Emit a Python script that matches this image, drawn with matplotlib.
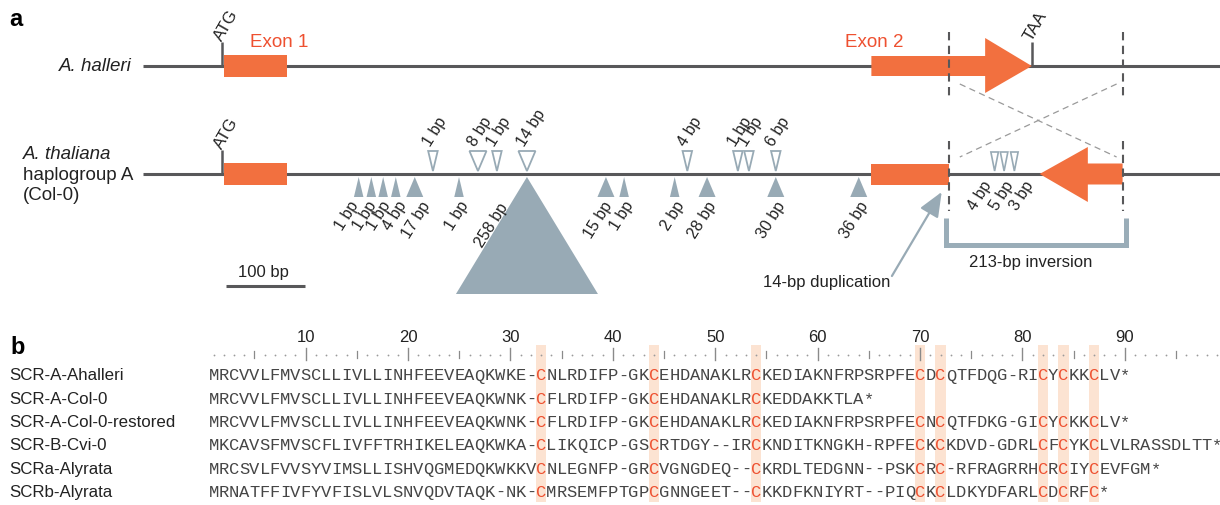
import matplotlib.pyplot as plt
from matplotlib.patches import Polygon, Rectangle

plt.rcParams['font.family'] = ['Liberation Sans', 'DejaVu Sans']

# ---------------- panel a: positions in bp, counted from the A. halleri ATG
line_start, line_end = -100, 1263
exon1 = (3, 82)
exon2_start, exon2_head, exon2_tip = 822, 966, 1025
inversion = (920, 1140)
rev_tip, rev_head = 1035, 1096
duplication_at = 911
scale_bar = 100

del_pos = [173, 189, 204, 220, 244, 300, 386, 486, 509, 573, 614, 701, 806]
del_size = [1, 1, 1, 4, 17, 1, 258, 15, 1, 2, 28, 30, 36]
ins_pos = [267, 324, 348, 386, 589, 653, 667, 701]
ins_size = [1, 8, 1, 14, 4, 1, 1, 6]
inv_ins_pos = [978, 990, 1003]
inv_ins_size = [4, 5, 3]

# ---------------- panel b: alignment
names = ["SCR-A-Ahalleri", "SCR-A-Col-0", "SCR-A-Col-0-restored",
         "SCR-B-Cvi-0", "SCRa-Alyrata", "SCRb-Alyrata"]
seqs = [
    "MRCVVLFMVSCLLIVLLINHFEEVEAQKWKE-CNLRDIFP-GKCEHDANAKLRCKEDIAKNFRPSRPFECDCQTFDQG-RICYCKKCLV*",
    "MRCVVLFMVSCLLIVLLINHFEEVEAQKWNK-CFLRDIFP-GKCEHDANAKLRCKEDDAKKTLA*",
    "MRCVVLFMVSCLLIVLLINHFEEVEAQKWNK-CFLRDIFP-GKCEHDANAKLRCKEDIAKNFRPSRPFECNCQTFDKG-GICYCKKCLV*",
    "MKCAVSFMVSCFLIVFFTRHIKELEAQKWKA-CLIKQICP-GSCRTDGY--IRCKNDITKNGKH-RPFECKCKDVD-GDRLCFCYKCLVLRASSDLTT*",
    "MRCSVLFVVSYVIMSLLISHVQGMEDQKWKKVCNLEGNFP-GRCVGNGDEQ--CKRDLTEDGNN--PSKCRC-RFRAGRRHCRCIYCEVFGM*",
    "MRNATFFIVFYVFISLVLSNVQDVTAQK-NK-CMRSEMFPTGPCGNNGEET--CKKDFKNIYRT--PIQCKCLDKYDFARLCDCRFC*",
]
cys_cols = [33, 44, 54, 70, 72, 82, 84, 87]
ruler_len = 99

ORANGE = '#F2703F'
RED = '#EE5030'
TRI = '#98AAB5'
LINE = '#58585A'
INK = '#222222'

W, H = 1220, 506
fig = plt.figure(figsize=(W / 100, H / 100), dpi=100)

# panel a axes: x in bp, y in pixels from the top
bp_px = 0.79               # pixels per bp (100 bp bar = 79 px)
atg_px = 222
ax = fig.add_axes([0, 0, 1, 1])
ax.set_xlim(-atg_px / bp_px, (W - atg_px) / bp_px)
ax.set_ylim(H, 0)
ax.axis('off')
px = 1 / bp_px             # one pixel in bp

y_hal, y_tha = 67, 175

# backbone lines
for y in (y_hal, y_tha):
    ax.plot([line_start, line_end], [y, y], color=LINE, lw=2.2, solid_capstyle='butt', zorder=1)


# ATG / TAA ticks
def tick(x, y, label):
    ax.plot([x, x], [y, y - 24], color=LINE, lw=1.8, solid_capstyle='butt', zorder=1)
    ax.text(x - 4 * px, y - 27, label, rotation=60, rotation_mode='anchor',
            ha='left', va='center', fontsize=12, color=INK)


tick(0, y_hal, 'ATG')
tick(0, y_tha, 'ATG')
tick(exon2_tip, y_hal, 'TAA')

# exon 1
for y in (y_hal, y_tha):
    ax.add_patch(Rectangle((exon1[0], y - 11), exon1[1] - exon1[0], 22,
                           color=ORANGE, lw=0, zorder=3))
ax.text(exon1[0] + 69, 42, 'Exon 1', color=RED, fontsize=13.5,
        ha='center', va='center')

# exon 2, A. halleri
ax.add_patch(Polygon([(exon2_start, y_hal - 10), (exon2_head, y_hal - 10),
                      (exon2_head, y_hal - 28), (exon2_tip, y_hal),
                      (exon2_head, y_hal + 27), (exon2_head, y_hal + 10),
                      (exon2_start, y_hal + 10)], closed=True, color=ORANGE, lw=0, zorder=3))
ax.text(exon2_start + 3 * px, 42, 'Exon 2', color=RED, fontsize=13.5, ha='center', va='center')

# exon 2, A. thaliana: box + inverted arrow
ax.add_patch(Rectangle((exon2_start, y_tha - 10.5), inversion[0] - exon2_start, 21,
                       color=ORANGE, lw=0, zorder=3))
ax.add_patch(Polygon([(inversion[1], y_tha - 10.5), (rev_head, y_tha - 10.5),
                      (rev_head, y_tha - 27), (rev_tip, y_tha),
                      (rev_head, y_tha + 28), (rev_head, y_tha + 10.5),
                      (inversion[1], y_tha + 10.5)], closed=True, color=ORANGE, lw=0, zorder=3))

# inversion boundaries
for x in inversion:
    ax.plot([x, x], [33, 100], color=LINE, lw=1.5, dashes=(4, 2.6), zorder=4)
    ax.plot([x, x], [142, 212], color=LINE, lw=1.5, dashes=(4, 2.6), zorder=4)
a0, a1 = inversion[0] + 11 * px, inversion[1] - 6 * px
ax.plot([a0, a1], [85, 158], color='#9A9A9A', lw=0.9, dashes=(5, 3.5), zorder=2)
ax.plot([a1, a0], [85, 158], color='#9A9A9A', lw=0.9, dashes=(5, 3.5), zorder=2)


def tri_width(size):
    if size > 100:
        return 142
    return 17 if size >= 8 else 9.5


# deletions (filled, below the line)
del_label_dx = [-4, 2, 4, 7, 12, 6, -22, 3, 6, 6, 6, 6, 6]
for x, s, dxl in zip(del_pos, del_size, del_label_dx):
    w = tri_width(s) * px / 2
    h = 117 if s > 100 else 20
    ax.add_patch(Polygon([(x - w, 178 + h), (x + w, 178 + h), (x, 178)],
                         closed=True, color=TRI, lw=0, zorder=2))
    ax.text(x + dxl * px, 205 if s > 100 else 203, f'{s} bp', rotation=58,
            rotation_mode='anchor', ha='right', va='center', fontsize=11.5, color=INK)

# insertions (open, above the line)
for x, s in zip(ins_pos, ins_size):
    w = tri_width(s) * px / 2
    ax.add_patch(Polygon([(x - w, 152), (x + w, 152), (x, 172)], closed=True,
                         facecolor='white', edgecolor=TRI, lw=1.3, zorder=2))
    ax.text(x - 6 * px, 145, f'{s} bp', rotation=58, rotation_mode='anchor',
            ha='left', va='center', fontsize=11.5, color=INK)

inv_label_dx = [-6, 6, 16]
for x, s, dxl in zip(inv_ins_pos, inv_ins_size, inv_label_dx):
    w = 7.5 * px / 2
    ax.add_patch(Polygon([(x - w, 153), (x + w, 153), (x, 172)], closed=True,
                         facecolor='white', edgecolor=TRI, lw=1.2, zorder=2))
    ax.text(x + dxl * px, 183, f'{s} bp', rotation=58, rotation_mode='anchor',
            ha='right', va='center', fontsize=11.5, color=INK)

# duplication arrow
ax.annotate('', xy=(duplication_at, 193), xytext=(duplication_at - 63, 277),
            arrowprops=dict(arrowstyle='-|>,head_length=1.0,head_width=0.42',
                            mutation_scale=15, color=TRI, lw=1.6,
                            shrinkA=0, shrinkB=0))
ax.text(duplication_at - 145, 283, '14-bp duplication', fontsize=12,
        ha='center', va='center', color=INK)

# inversion bracket
b0, b1 = inversion[0] - 3 * px, inversion[1] + 3 * px
ax.plot([b0, b0, b1, b1], [219, 246, 246, 219], color='#9AADB8', lw=3.6,
        solid_joinstyle='miter', solid_capstyle='butt')
ax.text((b0 + b1) / 2 - 5 * px, 263, '213-bp inversion', fontsize=12,
        ha='center', va='center', color=INK)

# scale bar
ax.plot([5, 5 + scale_bar], [287, 287], color=LINE, lw=2.2, solid_capstyle='butt')
ax.text(5 + scale_bar / 2 - 2 * px, 273, f'{scale_bar} bp', fontsize=12, ha='center',
        va='center', color=INK)

# species labels
ax.text(line_start - 11 * px, y_hal - 1, 'A. halleri', style='italic', fontsize=13.5,
        ha='right', va='center', color=INK)
ax.text(-199 * px, 154, 'A. thaliana', style='italic', fontsize=13.5,
        ha='left', va='center', color=INK)
ax.text(-199 * px, 175, 'haplogroup A', fontsize=13.5, ha='left', va='center', color=INK)
ax.text(-199 * px, 196, '(Col-0)', fontsize=13.5, ha='left', va='center', color=INK)

# ---------------- panel b axes: x in alignment columns, y in pixels
col1_px, col_w = 213.5, 10.24
bx = fig.add_axes([0, 0, 1, 1])
bx.set_xlim(1 - col1_px / col_w, 1 + (W - col1_px) / col_w)
bx.set_ylim(H, 0)
bx.axis('off')
bx.patch.set_alpha(0)

for c in cys_cols:
    bx.add_patch(Rectangle((c - 0.5, 346), 1, 157, color='#FCE3D2', lw=0, zorder=0))

for i in range(1, ruler_len + 1):
    if i % 10 == 0:
        bx.plot([i, i], [349, 361], color='#8A8A8A', lw=1.0)
        if i < ruler_len:
            bx.text(i, 338, str(i), fontsize=12, ha='center', va='center', color=INK)
    elif i % 5 == 0:
        bx.plot([i, i], [352, 359], color='#8A8A8A', lw=0.9)
    else:
        bx.plot(i, 355.5, 'o', ms=1.3, color='#9A9A9A', mew=0)

row_y = [376 + 23.3 * k for k in range(len(names))]
for name, seq, y in zip(names, seqs, row_y):
    bx.text(1 - (col1_px - 9) / col_w, y, name, fontsize=12.2, ha='left', va='center',
            color=INK)
    for j, ch in enumerate(seq, start=1):
        col = RED if (ch == 'C' and j in cys_cols) else '#454545'
        bx.text(j, y, ch, family='Liberation Mono', fontsize=12.3, ha='center',
                va='center', color=col)

fig.text(16 / W, 1 - 20 / H, 'a', fontsize=17, weight='bold', ha='center', va='center')
fig.text(18 / W, 1 - 347 / H, 'b', fontsize=17, weight='bold', ha='center', va='center')

fig.savefig('out.png', dpi=100)
